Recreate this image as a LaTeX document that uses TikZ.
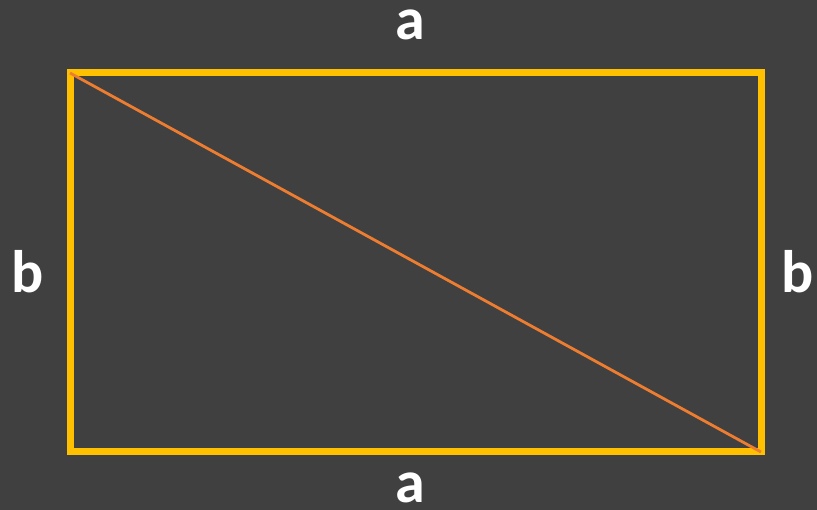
\documentclass[tikz,border=0pt]{standalone}
\usepackage{fontspec}
\setmainfont{Carlito}
\definecolor{bg}{HTML}{404040}
\definecolor{gold}{HTML}{FFC000}
\definecolor{orng}{HTML}{ED7D31}
\begin{document}
\begin{tikzpicture}[x=1pt,y=-1pt,
  lbl/.style={text=white,font=\fontsize{60}{72}\selectfont\bfseries,anchor=base,inner sep=0pt}]
\fill[bg] (0,0) rectangle (817,510);
\useasboundingbox (0,0) rectangle (817,510);
\coordinate (tl) at (70,73);
\coordinate (br) at (761,452);
\draw[gold,line width=7pt] (tl) rectangle (br);
\draw[orng,line width=2.8pt] (tl) -- (br);
\node[lbl] (at) at (410,40) {a};
\node[lbl] (ab) at (410,502) {a};
\node[lbl] (bl) at (28,293) {b};
\node[lbl] (br2) at (798,293) {b};
\end{tikzpicture}
\end{document}
